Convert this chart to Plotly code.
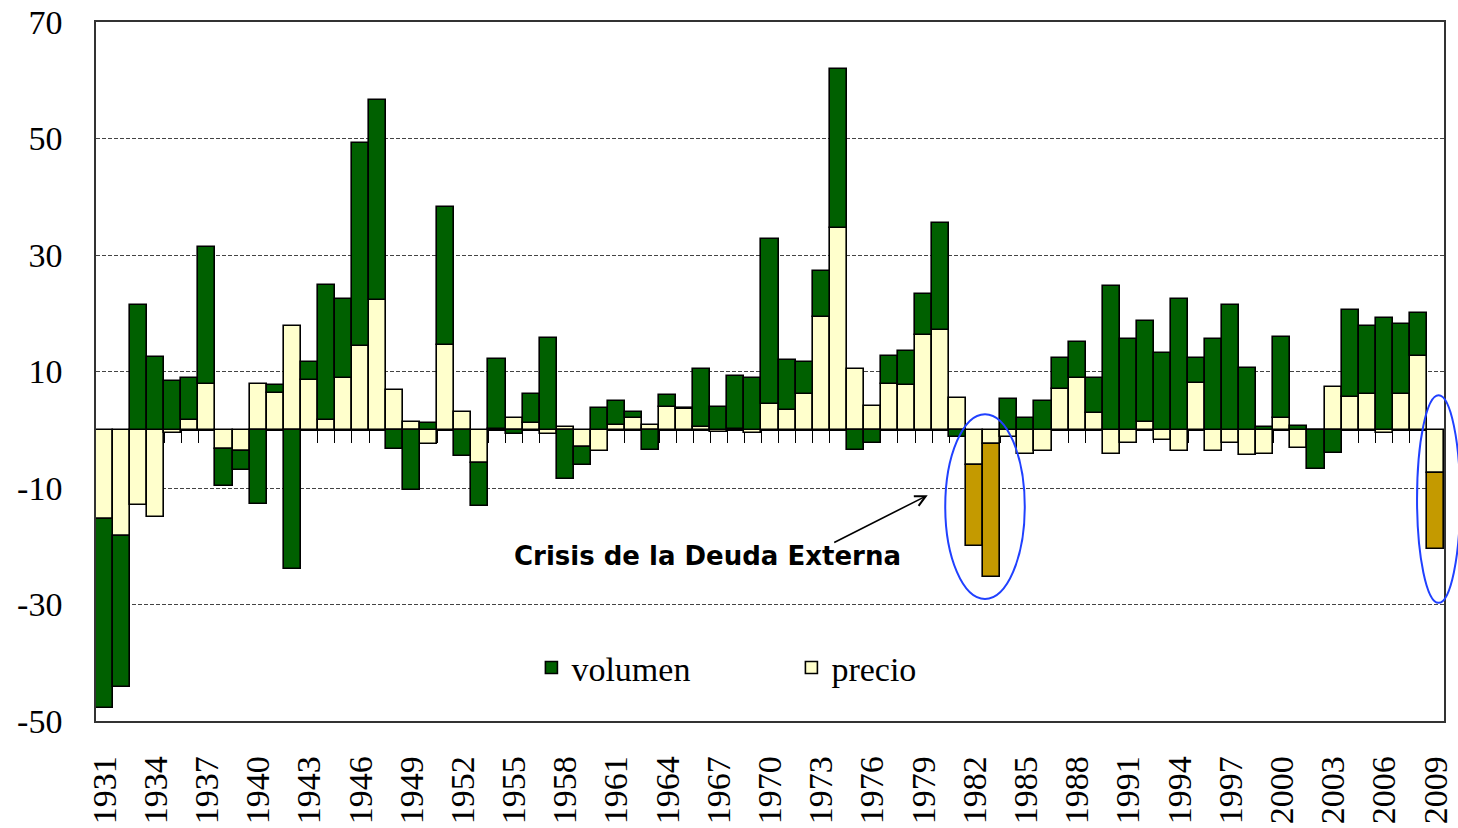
import plotly.graph_objects as go

years = list(range(1931, 2010))

precio = [
    -15.3, -18.2, -13.0, -15.0, -0.6, 1.6, 7.9, -3.3, -3.6, 7.9,
    6.3, 17.8, 8.5, 1.6, 8.9, 14.4, 22.3, 6.8, 1.3, -2.5,
    14.6, 3.0, -5.7, 0.2, 2.1, 1.2, -0.8, 0.4, -3.0, -3.7,
    0.9, 2.1, 0.9, 3.9, 3.6, 0.5, -0.3, 0.2, -0.5, 4.5,
    3.4, 6.2, 19.4, 34.7, 10.5, 4.1, 7.9, 7.6, 16.2, 17.2,
    5.4, -6.1, -2.5, -1.3, -4.1, -3.7, 7.0, 8.9, 2.9, -4.1,
    -2.3, 1.3, -1.8, -3.7, 8.0, -3.6, -2.3, -4.4, -4.1, 2.1,
    -3.1, -0.1, 7.4, 5.7, 6.2, -0.6, 6.2, 12.6, -7.4,
]

volumen = [
    -32.4, -25.9, 21.5, 12.5, 8.4, 7.2, 23.4, -6.3, -3.3, -12.8,
    1.4, -23.9, 3.1, 23.3, 13.6, 34.8, 34.3, -3.3, -10.4, 1.1,
    23.7, -4.5, -7.4, 11.9, -0.8, 5.0, 15.8, -8.4, -3.1, 3.7,
    4.0, 0.9, -3.4, 2.1, 0.2, 9.9, 3.9, 9.0, 8.9, 28.3,
    8.5, 5.4, 7.8, 27.2, -3.4, -2.2, 4.7, 6.0, 7.1, 18.3,
    -1.3, -13.8, -22.7, 5.3, 2.0, 5.0, 5.4, 6.1, 6.0, 24.7,
    15.6, 17.4, 13.2, 22.4, 4.3, 15.5, 21.4, 10.6, 0.5, 13.9,
    0.7, -6.7, -4.0, 14.8, 11.6, 19.1, 11.9, 7.5, -13.1,
]

highlight_years = [1982, 1983, 2009]
tick_years = list(range(1931, 2010, 3))
y_ticks = [-50, -30, -10, 10, 30, 50, 70]
y_tick_text = ["-50", "-30", "-10", "10", "30", "50", "70"]

GREEN = "#006000"
GOLD = "#C49A00"
CREAM = "#FFFFCC"
SERIF = "Liberation Serif, Times New Roman, serif"

vol_colors = [GOLD if y in highlight_years else GREEN for y in years]

fig = go.Figure()
fig.add_trace(go.Bar(
    x=years, y=precio, name="precio",
    marker=dict(color=CREAM, line=dict(color="black", width=1.6)),
    width=1.0,
))
fig.add_trace(go.Bar(
    x=years, y=volumen, name="volumen",
    marker=dict(color=vol_colors, line=dict(color="black", width=1.6)),
    width=1.0,
))

boundaries = [y - 0.5 for y in years] + [years[-1] + 0.5]

fig.update_layout(
    width=1458, height=828,
    margin=dict(l=96, r=14, t=22, b=107),
    paper_bgcolor="white", plot_bgcolor="white",
    barmode="relative", bargap=0,
    font=dict(family=SERIF, color="black"),
    showlegend=True,
    legend=dict(
        orientation="h", x=0.323, xanchor="left", y=0.076, yanchor="middle",
        font=dict(family=SERIF, size=34, color="black"),
        traceorder="reversed", entrywidth=215, entrywidthmode="pixels",
        bgcolor="rgba(0,0,0,0)",
    ),
    xaxis=dict(
        range=[1930.5, 2009.5], tickmode="array", tickvals=tick_years,
        ticktext=[str(t) for t in tick_years], tickangle=-90,
        tickfont=dict(family=SERIF, size=34, color="black"),
        showgrid=False, zeroline=False, ticks="", ticklabelstandoff=20,
        showline=True, mirror=True, linecolor="#333333", linewidth=1.5,
        automargin=False, ticklabeloverflow="allow",
    ),
    xaxis2=dict(
        overlaying="x", anchor="free", position=50 / 120, side="bottom",
        range=[1930.5, 2009.5], tickmode="array", tickvals=boundaries,
        ticks="outside", ticklen=12, tickwidth=1, tickcolor="black",
        showticklabels=False, showgrid=False, zeroline=False,
        showline=True, linecolor="black", linewidth=2, layer="below traces",
        automargin=False,
    ),
    yaxis=dict(
        range=[-50, 70], tickmode="array", tickvals=y_ticks, ticktext=y_tick_text,
        tickfont=dict(family=SERIF, size=34, color="black"),
        showgrid=True, gridcolor="#444444", gridwidth=1, griddash="4px,2px",
        zeroline=False, ticks="", ticklabelstandoff=25,
        showline=True, mirror=True, linecolor="#333333", linewidth=1.5,
        automargin=False, ticklabeloverflow="allow",
    ),
)

# invisible trace to activate xaxis2
fig.add_trace(go.Scatter(x=[years[0]], y=[0], xaxis="x2", mode="markers",
                         marker=dict(opacity=0), showlegend=False, hoverinfo="skip"))

# ellipses around the crisis bars
fig.add_shape(type="circle", xref="paper", yref="paper",
              x0=0.630, x1=0.689, y0=0.1745, y1=0.439,
              line=dict(color="#2040FF", width=2))
fig.add_shape(type="circle", xref="paper", yref="paper",
              x0=0.980, x1=1.012, y0=0.169, y1=0.466,
              line=dict(color="#2040FF", width=2))

fig.add_annotation(
    xref="paper", yref="paper", x=0.454, y=0.212,
    text="<b>Crisis de la Deuda Externa</b>", showarrow=False,
    font=dict(family="DejaVu Sans, Verdana, sans-serif", size=26, color="black"),
)
fig.add_annotation(
    xref="paper", yref="paper", x=0.617, y=0.323, text="",
    showarrow=True, arrowhead=5, arrowsize=1.3, arrowwidth=1.6, arrowcolor="black",
    ax=-95, ay=48,
)

fig.write_html("out.html", config={"displayModeBar": False},
               post_script="document.body.style.margin='0px';")
